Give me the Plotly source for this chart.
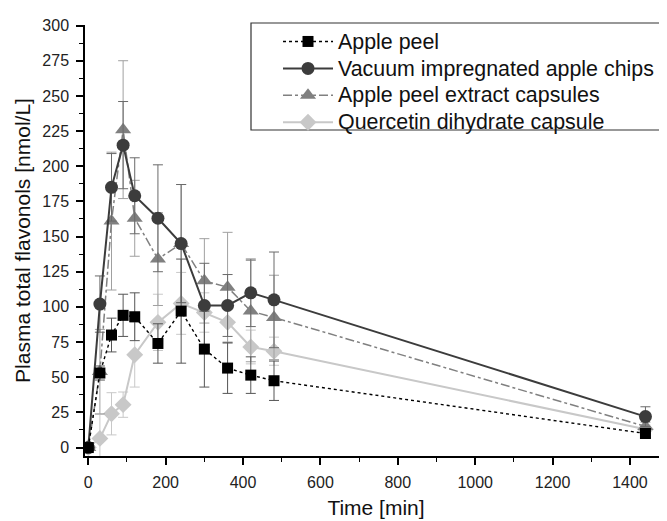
import plotly.graph_objects as go

time_min = [0, 30, 60, 90, 120, 180, 240, 300, 360, 420, 480, 1440]

apple_peel = [0, 53, 80, 94, 93, 74, 97, 70, 56.5, 51.5, 47.5, 10]
apple_peel_err = [0, 5, 12, 15, 17, 14, 37, 27, 18, 13, 14, 3]

vi_chips = [0, 102, 185, 215, 179, 163, 145, 101, 101, 110, 105, 22]
vi_chips_err = [0, 20, 24, 31, 27, 38, 42, 30, 22, 24, 34, 7]

extract_caps = [0, 54, 161, 226, 163, 134, 145, 118.5, 114, 97, 92.5, 15]
extract_caps_err = [0, 30, 49, 49, 27, 33, 42, 30, 39, 36, 30, 3]

quercetin = [0, 6.5, 24, 30.5, 66, 89, 102.5, 96, 89, 71.5, 68.5, 13]
quercetin_err = [0, 17, 15, 9, 23, 20, 22, 14, 15, 12, 10, 3]

series_names = ["Apple peel", "Vacuum impregnated apple chips",
                "Apple peel extract capsules", "Quercetin dihydrate capsule"]

x_tickvals = [0, 200, 400, 600, 800, 1000, 1200, 1400]
y_tickvals = [0, 25, 50, 75, 100, 125, 150, 175, 200, 225, 250, 275, 300]

FONT = "Liberation Sans, Arial, sans-serif"

styles = [
    dict(color="#000000", err="#555555", dash="dot", width=1.4, symbol="square", size=11),
    dict(color="#3c3c3c", err="#6a6a6a", dash="solid", width=2, symbol="circle", size=13),
    dict(color="#808080", err="#a0a0a0", dash="dashdot", width=1.5, symbol="triangle-up", size=14),
    dict(color="#c8c8c8", err="#c8c8c8", dash="solid", width=2, symbol="diamond", size=13),
]
data = [(apple_peel, apple_peel_err), (vi_chips, vi_chips_err),
        (extract_caps, extract_caps_err), (quercetin, quercetin_err)]

fig = go.Figure()
order = [3, 2, 1, 0]
for i in order:
    y, e = data[i]
    s = styles[i]
    fig.add_trace(go.Scatter(
        x=time_min, y=y,
        name='<span style="font-size:21.4px">' + series_names[i] + '</span>',
        mode="lines+markers",
        line=dict(color=s["color"], dash=s["dash"], width=s["width"]),
        marker=dict(symbol=s["symbol"], size=s["size"], color=s["color"]),
        error_y=dict(type="data", array=e, visible=True, color=s["err"],
                     thickness=1, width=5),
        legendrank=i + 1,
    ))

axis_common = dict(
    showline=True, linecolor="#000000", linewidth=1.5, ticks="outside",
    ticklen=7, tickwidth=1.5, tickcolor="#000000", showgrid=False,
    zeroline=False, mirror=False, automargin=False, ticklabelstandoff=4,
    tickfont=dict(family=FONT, size=16, color="#222222"),
)

fig.update_xaxes(
    range=[-8.5, 1495.7], tickvals=x_tickvals,
    title=dict(text="Time [min]", font=dict(family=FONT, size=21, color="#111111"), standoff=10),
    minor=dict(dtick=100, ticks="outside", ticklen=4, tickwidth=1.2, tickcolor="#000000", tick0=0),
    **axis_common,
)
fig.update_yaxes(
    range=[-6, 300.4], tickvals=y_tickvals,
    title=dict(text="Plasma total flavonols [nmol/L]", font=dict(family=FONT, size=21, color="#111111"), standoff=6),
    minor=dict(dtick=12.5, tick0=0, ticks="outside", ticklen=4, tickwidth=1.2, tickcolor="#000000"),
    **axis_common,
)

# legend frame (page px: left 251, top 23, bottom 130; plot area 85..667 x 25..456)
fig.add_shape(type="rect", xref="paper", yref="paper",
              x0=(251 - 85) / 582, x1=1.1,
              y0=(456 - 130) / 431, y1=1 + (25 - 23) / 431,
              line=dict(color="#333333", width=1.2), fillcolor="#ffffff",
              layer="below")

fig.update_layout(
    width=667, height=521,
    margin=dict(l=77, r=8, t=17, b=73),
    plot_bgcolor="rgba(0,0,0,0)", paper_bgcolor="#ffffff",
    showlegend=True,
    legend=dict(
        x=(278 - 85) / 582, y=1 + 2 / 431, xanchor="left", yanchor="top",
        bgcolor="rgba(0,0,0,0)", borderwidth=0,
        font=dict(family=FONT, size=18.4, color="#111111"),
        tracegroupgap=0, itemwidth=50,
    ),
)

fig.write_html("out.html")
